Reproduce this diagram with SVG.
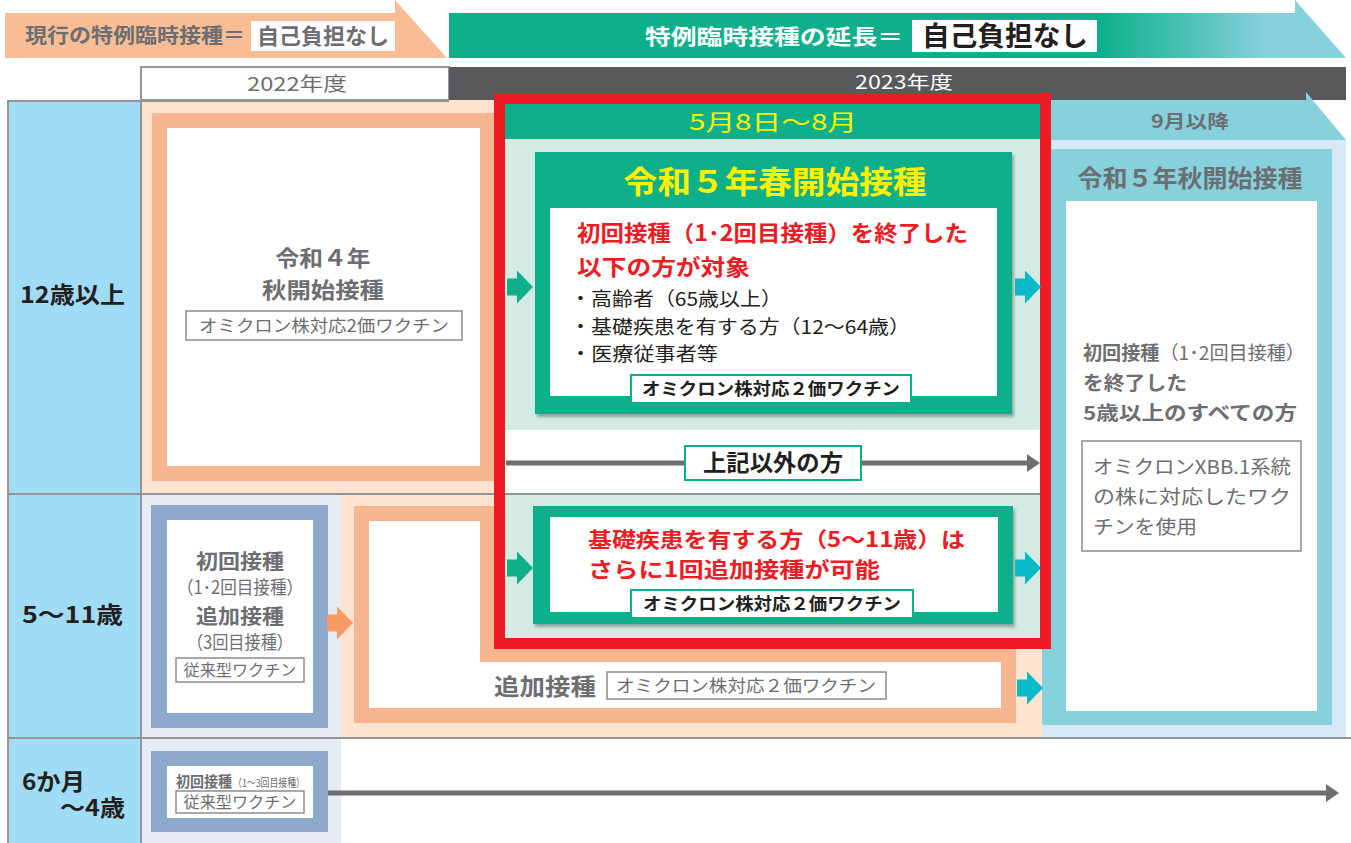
<svg xmlns="http://www.w3.org/2000/svg" xmlns:xlink="http://www.w3.org/1999/xlink" width="1351" height="843" viewBox="0 0 1351 843">
<defs>
<style>
text{font-family:"Noto Sans CJK JP","Noto Sans",sans-serif;}
.b{font-weight:700;}
.n{font-weight:400;}
.g{fill:#6d6e71;}
.k{fill:#231f20;}
.w{fill:#ffffff;}
.y{fill:#fff200;}
.r{fill:#ed1c24;}
.m{text-anchor:middle;}
.grid{stroke:#939598;stroke-width:2;fill:none;}
.tagG{fill:#ffffff;stroke:#0db08b;stroke-width:2;}
.tagK{fill:#ffffff;stroke:#8a8c8e;stroke-width:1.5;}
.gline{stroke:#6d6e71;stroke-width:5;fill:none;}
</style>
<linearGradient id="gb" gradientUnits="userSpaceOnUse" x1="1100" y1="0" x2="1265" y2="0">
<stop offset="0" stop-color="#0db08b"/>
<stop offset="1" stop-color="#86d1dc"/>
</linearGradient>
<filter id="sh" x="-5%" y="-5%" width="110%" height="115%">
<feDropShadow dx="2" dy="3" stdDeviation="1.5" flood-color="#000" flood-opacity="0.3"/>
</filter>
<polygon id="blk" points="-26,-8.5 -16,-8.5 -16,-16.5 0,0 -16,16.5 -16,8.5 -26,8.5"/>
<marker id="ah" viewBox="0 0 13 18" refX="1" refY="9" markerWidth="13" markerHeight="18" markerUnits="userSpaceOnUse" orient="auto">
<path d="M0,0 L13,9 L0,18 Z" fill="#6d6e71"/>
</marker>
</defs>
<rect x="0" y="0" width="1351" height="843" fill="#ffffff"/>

<g id="banner-current">
<polygon points="5,13 395,13 395,0 447,58 5,58" fill="#f9bd95"/>
<text x="25" y="43" font-size="20" textLength="220" lengthAdjust="spacingAndGlyphs" class="b g">現行の特例臨時接種＝</text>
<rect x="251" y="21" width="144" height="30" fill="#ffffff"/>
<text x="323" y="44" font-size="22" textLength="132" lengthAdjust="spacingAndGlyphs" class="b g m">自己負担なし</text>
</g>

<g id="banner-extension">
<polygon points="449,13 1295,13 1295,0 1346,58 449,58" fill="url(#gb)"/>
<text x="645" y="43.5" font-size="21" textLength="258" lengthAdjust="spacingAndGlyphs" class="b w">特例臨時接種の延長＝</text>
<rect x="912" y="20" width="185" height="32" fill="#ffffff"/>
<text x="1005" y="46" font-size="27" textLength="166" lengthAdjust="spacingAndGlyphs" class="b k m">自己負担なし</text>
</g>

<g id="year-2022">
<rect x="141" y="67" width="308" height="33" fill="#ffffff" stroke="#939598" stroke-width="2"/>
<text x="297" y="91" font-size="19" textLength="100" lengthAdjust="spacingAndGlyphs" class="g m">2022年度</text>
</g>
<g id="year-2023">
<rect x="449" y="67" width="897" height="33" fill="#58595b"/>
<text x="904" y="88.5" font-size="18" textLength="98" lengthAdjust="spacingAndGlyphs" class="w m">2023年度</text>
</g>

<g id="backgrounds">
<rect x="141" y="100" width="901" height="394" fill="#fde3d0"/>
<rect x="141" y="494" width="200" height="244" fill="#e7ecf4"/>
<rect x="341" y="494" width="701" height="244" fill="#fde3d0"/>
<rect x="141" y="738" width="200" height="105" fill="#e7ecf4"/>
<rect x="1042" y="140" width="304" height="598" fill="#d6e9f6"/>
</g>

<g id="age-column">
<rect x="8" y="100" width="133" height="743" fill="#a1dcf7"/>
</g>

<g id="grid">
<line x1="8" y1="100" x2="8" y2="843" class="grid"/>
<line x1="141" y1="67" x2="141" y2="843" class="grid"/>
<line x1="8" y1="101" x2="449" y2="101" class="grid"/>
<line x1="8" y1="494" x2="1042" y2="494" class="grid"/>
<line x1="8" y1="738" x2="1351" y2="738" class="grid"/>
</g>

<g id="age-12plus">
<text x="20" y="303" font-size="23" textLength="105" lengthAdjust="spacingAndGlyphs" class="b k">12歳以上</text>
</g>
<g id="age-5to11">
<text x="22" y="623" font-size="23" textLength="101" lengthAdjust="spacingAndGlyphs" class="b k">5～11歳</text>
</g>
<g id="age-6mto4">
<text font-size="23" class="b k"><tspan x="22" y="790" textLength="63" lengthAdjust="spacingAndGlyphs">6か月</tspan><tspan x="60" y="816" textLength="65" lengthAdjust="spacingAndGlyphs">～4歳</tspan></text>
</g>

<g id="r4-autumn">
<rect x="152" y="113" width="343" height="368" fill="#f8b690"/>
<rect x="167" y="128" width="313" height="338" fill="#ffffff"/>
<text font-size="22" class="b g m"><tspan x="323" y="266" textLength="95" lengthAdjust="spacingAndGlyphs">令和４年</tspan><tspan x="323" y="298" textLength="122" lengthAdjust="spacingAndGlyphs">秋開始接種</tspan></text>
<rect x="186" y="311" width="276" height="29" class="tagK"/>
<text x="324" y="331.5" font-size="17" textLength="250" lengthAdjust="spacingAndGlyphs" class="g m">オミクロン株対応2価ワクチン</text>
</g>

<g id="child-initial">
<rect x="151" y="505" width="177" height="223" fill="#8ea8cb"/>
<rect x="167" y="520" width="146" height="193" fill="#ffffff"/>
<text class="g m"><tspan class="b" font-size="20" x="240" y="569" textLength="88" lengthAdjust="spacingAndGlyphs">初回接種</tspan><tspan class="n" font-size="18" x="240" y="593.5" textLength="126" lengthAdjust="spacingAndGlyphs">（1･2回目接種）</tspan><tspan class="b" font-size="20" x="240" y="624" textLength="88" lengthAdjust="spacingAndGlyphs">追加接種</tspan><tspan class="n" font-size="18" x="240" y="648.5" textLength="106" lengthAdjust="spacingAndGlyphs">（3回目接種）</tspan></text>
<rect x="176" y="658" width="128" height="24" class="tagK"/>
<text x="240" y="676" font-size="16" textLength="113" lengthAdjust="spacingAndGlyphs" class="g m">従来型ワクチン</text>
</g>

<g id="infant-initial">
<rect x="151" y="751" width="177" height="81" fill="#8ea8cb"/>
<rect x="167" y="766" width="146" height="52" fill="#ffffff"/>
<text class="g"><tspan class="b" font-size="15" x="176" y="786.5" textLength="56" lengthAdjust="spacingAndGlyphs">初回接種</tspan><tspan class="n" font-size="11" x="233" y="786.5" textLength="72" lengthAdjust="spacingAndGlyphs">（1～3回目接種）</tspan></text>
<rect x="176" y="791" width="128" height="22" class="tagK"/>
<text x="240" y="808" font-size="16" textLength="113" lengthAdjust="spacingAndGlyphs" class="g m">従来型ワクチン</text>
</g>

<g id="child-booster">
<rect x="354" y="506" width="662" height="217" fill="#f8b690"/>
<rect x="369" y="521" width="632" height="187" fill="#ffffff"/>
<rect x="480" y="506" width="536" height="156" fill="#f8b690"/>
<text x="494" y="695" font-size="23" textLength="102" lengthAdjust="spacingAndGlyphs" class="b g">追加接種</text>
<rect x="607" y="672" width="279" height="27" class="tagK"/>
<text x="746" y="692" font-size="17" textLength="260" lengthAdjust="spacingAndGlyphs" class="g m">オミクロン株対応２価ワクチン</text>
</g>

<g id="r5-autumn">
<polygon points="1042,100 1306,100 1306,92 1346,140 1042,140" fill="#86d1dc"/>
<text x="1190" y="127.5" font-size="18" textLength="78" lengthAdjust="spacingAndGlyphs" class="b g m">9月以降</text>
<rect x="1042" y="149" width="290" height="576" fill="#86d1dc"/>
<rect x="1066" y="201" width="251" height="510" fill="#ffffff"/>
<text x="1190" y="187" font-size="24" textLength="225" lengthAdjust="spacingAndGlyphs" class="b g m">令和５年秋開始接種</text>
<text font-size="19" class="g"><tspan x="1083" y="360" textLength="222" lengthAdjust="spacingAndGlyphs"><tspan class="b">初回接種</tspan>（1･2回目接種）</tspan><tspan class="b" x="1083" y="390" textLength="104" lengthAdjust="spacingAndGlyphs">を終了した</tspan><tspan class="b" x="1083" y="420" textLength="214" lengthAdjust="spacingAndGlyphs">5歳以上のすべての方</tspan></text>
<rect x="1082" y="441" width="219" height="110" class="tagK"/>
<text font-size="19" class="g"><tspan x="1093" y="474" textLength="198" lengthAdjust="spacingAndGlyphs">オミクロンXBB.1系統</tspan><tspan x="1093" y="504" textLength="198" lengthAdjust="spacingAndGlyphs">の株に対応したワク</tspan><tspan x="1093" y="534" textLength="104" lengthAdjust="spacingAndGlyphs">チンを使用</tspan></text>
</g>

<g id="period-may-aug">
<rect x="505" y="104" width="536" height="539" fill="#d3ebe3"/>
<rect x="505" y="104" width="536" height="35" fill="#0db08b"/>
<text x="773" y="130" font-size="22" textLength="168" lengthAdjust="spacingAndGlyphs" class="y m">5月8日～8月</text>
<rect x="505" y="430" width="536" height="63" fill="#ffffff"/>
<line x1="505" y1="494" x2="1041" y2="494" class="grid"/>
</g>

<g id="r5-spring">
<rect x="535" y="152" width="477" height="262" fill="#0db08b" filter="url(#sh)"/>
<rect x="550" y="208" width="447" height="188" fill="#ffffff"/>
<text x="775" y="193" font-size="31" textLength="303" lengthAdjust="spacingAndGlyphs" class="b y m">令和５年春開始接種</text>
<text font-size="22" class="b r"><tspan x="577" y="241" textLength="391" lengthAdjust="spacingAndGlyphs">初回接種（1･2回目接種）を終了した</tspan><tspan x="577" y="275" textLength="173" lengthAdjust="spacingAndGlyphs">以下の方が対象</tspan></text>
<text font-size="19" class="k"><tspan x="570" y="306" textLength="212" lengthAdjust="spacingAndGlyphs">・高齢者（65歳以上）</tspan><tspan x="570" y="333.5" textLength="340" lengthAdjust="spacingAndGlyphs">・基礎疾患を有する方（12～64歳）</tspan><tspan x="570" y="361" textLength="148" lengthAdjust="spacingAndGlyphs">・医療従事者等</tspan></text>
<rect x="631" y="375" width="280" height="28" class="tagG"/>
<text x="771" y="395" font-size="17" textLength="258" lengthAdjust="spacingAndGlyphs" class="b k m">オミクロン株対応２価ワクチン</text>
</g>

<g id="child-extra">
<rect x="533" y="506" width="480" height="118" fill="#0db08b" filter="url(#sh)"/>
<rect x="550" y="517" width="448" height="95" fill="#ffffff"/>
<text font-size="21" class="b r"><tspan x="588" y="546.5" textLength="377" lengthAdjust="spacingAndGlyphs">基礎疾患を有する方（5～11歳）は</tspan><tspan x="588" y="577" textLength="292" lengthAdjust="spacingAndGlyphs">さらに1回追加接種が可能</tspan></text>
<rect x="631" y="590" width="282" height="28" class="tagG"/>
<text x="772" y="610" font-size="17" textLength="258" lengthAdjust="spacingAndGlyphs" class="b k m">オミクロン株対応２価ワクチン</text>
</g>

<g id="red-frame">
<rect x="499.5" y="98.5" width="546" height="545" fill="none" stroke="#ed1c24" stroke-width="11"/>
</g>

<g id="connectors">
<use xlink:href="#blk" href="#blk" transform="translate(533,287)" fill="#0db08b"/>
<use xlink:href="#blk" href="#blk" transform="translate(1041,287)" fill="#0bbac8"/>
<use xlink:href="#blk" href="#blk" transform="translate(533,568)" fill="#0db08b"/>
<use xlink:href="#blk" href="#blk" transform="translate(1041,568)" fill="#0bbac8"/>
<use xlink:href="#blk" href="#blk" transform="translate(1043,688)" fill="#0bbac8"/>
<use xlink:href="#blk" href="#blk" transform="translate(353,623)" fill="#f79a63"/>
<line x1="506" y1="463" x2="684" y2="463" class="gline"/>
<line x1="862" y1="463" x2="1028" y2="463" class="gline" marker-end="url(#ah)"/>
<line x1="328" y1="793" x2="1327" y2="793" class="gline" marker-end="url(#ah)"/>
</g>

<g id="others-label">
<rect x="685" y="446" width="176" height="34" class="tagG"/>
<text x="773" y="471" font-size="23" textLength="140" lengthAdjust="spacingAndGlyphs" class="b k m">上記以外の方</text>
</g>
</svg>
